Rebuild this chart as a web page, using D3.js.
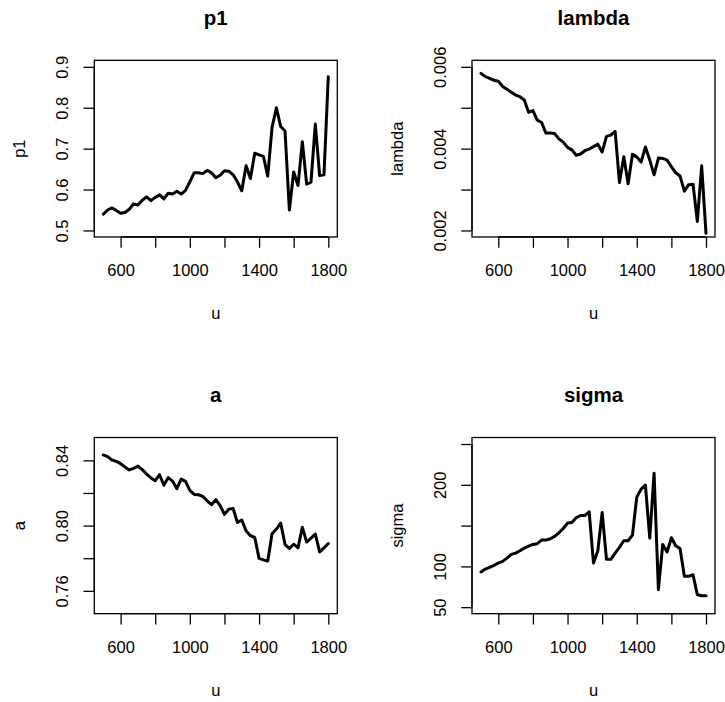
<!DOCTYPE html>
<html><head><meta charset="utf-8">
<script src="https://cdn.jsdelivr.net/npm/d3@7"></script>
<style>
body{margin:0;background:#fff}
svg{display:block}
text{font-family:"Liberation Sans",Arial,Helvetica,sans-serif;fill:#000}
</style>
</head><body>
<script>
// ---- data ----
const u = [500,525,550,575,600,625,650,675,700,725,750,775,800,825,850,875,900,925,950,975,
  1000,1025,1050,1075,1100,1125,1150,1175,1200,1225,1250,1275,1300,1325,1350,1375,1400,1425,
  1450,1475,1500,1525,1550,1575,1600,1625,1650,1675,1700,1725,1750,1775,1800];

const p1 = [0.540,0.550,0.555,0.549,0.542,0.544,0.552,0.565,0.562,0.574,0.582,0.573,0.581,0.587,
  0.577,0.591,0.589,0.596,0.589,0.598,0.619,0.641,0.641,0.639,0.647,0.641,0.629,0.635,0.646,0.645,
  0.636,0.619,0.597,0.658,0.627,0.689,0.685,0.681,0.633,0.752,0.800,0.754,0.743,0.550,0.643,0.610,
  0.717,0.613,0.618,0.760,0.634,0.636,0.876];

const lambda = [0.00584,0.00576,0.00572,0.00567,0.00565,0.00552,0.00545,0.00538,0.00531,0.00527,
  0.00519,0.00489,0.00493,0.00470,0.00464,0.00438,0.00438,0.00437,0.00424,0.00416,0.00403,0.00397,
  0.00384,0.00387,0.00395,0.00399,0.00405,0.00411,0.00392,0.00430,0.00433,0.00442,0.00317,0.00380,
  0.00314,0.00386,0.00380,0.00367,0.00404,0.00372,0.00336,0.00377,0.00376,0.00372,0.00356,0.00341,
  0.00333,0.00296,0.00312,0.00313,0.00222,0.00358,0.00193];

const a = [0.8433,0.8423,0.8402,0.8394,0.8380,0.8359,0.8341,0.8351,0.8365,0.8343,0.8316,0.8292,
  0.8275,0.8312,0.8247,0.8294,0.8273,0.8226,0.8285,0.8271,0.8216,0.8191,0.8189,0.8179,0.8152,
  0.8128,0.8159,0.8122,0.8069,0.8101,0.8105,0.8019,0.8034,0.7968,0.7938,0.7927,0.7799,0.7790,
  0.7782,0.7950,0.7979,0.8015,0.7884,0.7860,0.7886,0.7864,0.7989,0.7899,0.7923,0.7948,0.7839,
  0.7864,0.7890];

const sigma = [93.1,96.7,98.8,101.2,104.1,106.1,110.2,114.7,116.3,119.2,122.4,124.9,126.9,127.8,
  132.2,132.2,133.9,136.7,141.2,146.5,153.1,153.9,159.6,162.4,162.4,166.9,104.1,119.2,166.1,108.6,
  108.6,116.3,123.3,131.4,131.4,138.4,184.9,194.7,199.6,134.7,214.3,71.4,126.9,117.6,135.1,125.3,
  122.0,87.8,87.8,89.8,65.3,64.1,64.1];

const xLimits = [500, 1800];
const xTicks = [600, 800, 1000, 1200, 1400, 1600, 1800];
const xTickLabels = ["600", "", "1000", "", "1400", "", "1800"];

const titles = ["p1", "lambda", "a", "sigma"];
const yLabels = ["p1", "lambda", "a", "sigma"];
const yLimits = [[0.5, 0.9], [0.002, 0.006], [0.75, 0.85], [50, 250]];
const yTicks = [
  [0.5, 0.6, 0.7, 0.8, 0.9],
  [0.002, 0.003, 0.004, 0.005, 0.006],
  [0.76, 0.78, 0.80, 0.82, 0.84],
  [50, 100, 150, 200, 250]
];
const yTickLabels = [
  ["0.5", "0.6", "0.7", "0.8", "0.9"],
  ["0.002", "", "0.004", "", "0.006"],
  ["0.76", "", "0.80", "", "0.84"],
  ["50", "100", "", "200", ""]
];
const seriesList = [p1, lambda, a, sigma];

// ---- layout ----
const W = 725, H = 702;
const colX = [[94.3, 337.3], [472, 715]];
const rowY = [[60.3, 237], [437.5, 613.7]];
const LH = 21.7;           // margin line height
const tickFont = 16.5, titleFont = 20.5;
const tickLen = 10.8;

const svg = d3.select("body").append("svg").attr("width", W).attr("height", H);
svg.append("rect").attr("width", W).attr("height", H).attr("fill", "#fff");

function pad(lim) { const r = lim[1] - lim[0]; return [lim[0] - 0.04 * r, lim[1] + 0.04 * r]; }

seriesList.forEach((vals, k) => {
  const col = k % 2, row = Math.floor(k / 2);
  const [x0, x1] = colX[col], [y0, y1] = rowY[row];
  const x = d3.scaleLinear().domain(pad(xLimits)).range([x0, x1]);
  const y = d3.scaleLinear().domain(pad(yLimits[k])).range([y1, y0]);
  const g = svg.append("g");

  // box
  g.append("rect").attr("x", x0).attr("y", y0).attr("width", x1 - x0).attr("height", y1 - y0)
    .attr("fill", "none").attr("stroke", "#000").attr("stroke-width", 1.3);

  // x axis
  const xa = d3.axisBottom(x).tickValues(xTicks).tickSize(tickLen).tickSizeOuter(0)
    .tickFormat((d, i) => xTickLabels[i]);
  const gx = g.append("g").attr("transform", `translate(0,${y1})`).call(xa);
  gx.select(".domain").attr("d", `M${x(xTicks[0])},0H${x(xTicks[xTicks.length-1])}`)
    .attr("stroke", "#000").attr("stroke-width", 1.3);
  gx.selectAll(".tick line").attr("stroke", "#000").attr("stroke-width", 1.3);
  gx.selectAll(".tick text").attr("y", 1.8 * LH).attr("dy", null)
    .style("font-size", tickFont + "px").style("font-family", '"Liberation Sans",Arial,sans-serif')
    .attr("fill", "#000");

  // y axis
  const ya = d3.axisLeft(y).tickValues(yTicks[k]).tickSize(tickLen).tickSizeOuter(0)
    .tickFormat((d, i) => yTickLabels[k][i]);
  const gy = g.append("g").attr("transform", `translate(${x0},0)`).call(ya);
  const yt = yTicks[k];
  gy.select(".domain").attr("d", `M0,${y(yt[0])}V${y(yt[yt.length-1])}`)
    .attr("stroke", "#000").attr("stroke-width", 1.3);
  gy.selectAll(".tick line").attr("stroke", "#000").attr("stroke-width", 1.3);
  gy.selectAll(".tick text")
    .attr("x", null).attr("dy", null)
    .attr("transform", `translate(${-1.2 * LH},0) rotate(-90)`)
    .attr("text-anchor", "middle")
    .style("font-size", tickFont + "px").style("font-family", '"Liberation Sans",Arial,sans-serif')
    .attr("fill", "#000");

  // line
  const line = d3.line().x((d, i) => x(u[i])).y(d => y(d));
  g.append("path").datum(vals).attr("d", line).attr("fill", "none")
    .attr("stroke", "#000").attr("stroke-width", 3)
    .attr("stroke-linejoin", "round").attr("stroke-linecap", "round");

  // title
  g.append("text").attr("x", (x0 + x1) / 2).attr("y", y0 - 35.3)
    .attr("text-anchor", "middle").style("font-size", titleFont + "px")
    .style("font-weight", "bold").text(titles[k]);

  // x label
  g.append("text").attr("x", (x0 + x1) / 2).attr("y", y1 + 3.8 * LH)
    .attr("text-anchor", "middle").style("font-size", tickFont + "px").text("u");

  // y label
  g.append("text").attr("transform", `translate(${x0 - 3.2 * LH},${(y0 + y1) / 2}) rotate(-90)`)
    .attr("text-anchor", "middle").style("font-size", tickFont + "px").text(yLabels[k]);
});
</script>
</body></html>
